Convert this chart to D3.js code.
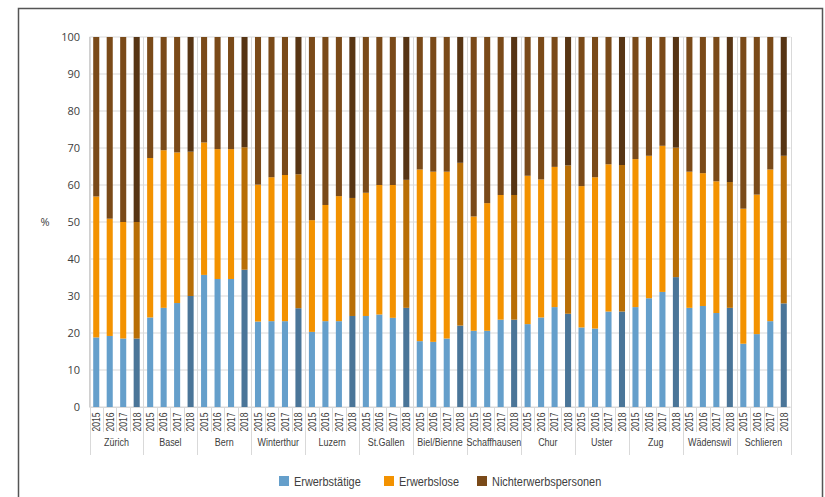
<!DOCTYPE html>
<html><head><meta charset="utf-8">
<script src="https://cdn.jsdelivr.net/npm/d3@7"></script>
<style>html,body{margin:0;padding:0;background:#fff}</style>
</head><body>
<svg id="c" width="825" height="497"></svg>
<script>
const cities = ["Zürich","Basel","Bern","Winterthur","Luzern","St.Gallen","Biel/Bienne","Schaffhausen","Chur","Uster","Zug","Wädenswil","Schlieren"];
const years = ["2015","2016","2017","2018"];
const seriesNames = ["Erwerbstätige","Erwerbslose","Nichterwerbspersonen"];
const yTicks = [0,10,20,30,40,50,60,70,80,90,100];
// values per city, 2015..2018
const erwerbstaetige = [
  18.8,19.2,18.5,18.5, 24.2,26.8,28.1,30.0, 35.7,34.6,34.6,37.1, 23.1,23.2,23.2,26.7,
  20.3,23.2,23.2,24.6, 24.6,25.0,24.1,26.8, 17.8,17.6,18.5,22.0, 20.6,20.6,23.6,23.6,
  22.4,24.2,27.0,25.2, 21.5,21.2,25.8,25.8, 27.0,29.4,31.1,35.1, 26.8,27.3,25.4,26.8,
  17.1,19.7,23.2,28.0];
const erwerbslose = [
  38.1,31.7,31.5,31.5, 43.1,42.6,40.7,39.0, 35.8,35.1,35.1,33.1, 37.0,38.9,39.5,36.2,
  30.2,31.4,33.8,31.9, 33.3,35.0,35.9,34.6, 46.4,46.0,45.1,44.0, 30.9,34.5,33.7,33.7,
  40.1,37.3,37.9,40.1, 38.2,40.9,39.8,39.6, 40.0,38.5,39.5,35.0, 36.8,35.9,35.6,34.0,
  36.5,37.7,41.0,39.9];
const nichterwerbspersonen = [
  43.1,49.1,50.0,50.0, 32.7,30.6,31.2,31.0, 28.5,30.3,30.3,29.8, 39.9,37.9,37.3,37.1,
  49.5,45.4,43.0,43.5, 42.1,40.0,40.0,38.6, 35.8,36.4,36.4,34.0, 48.5,44.9,42.7,42.7,
  37.5,38.5,35.1,34.7, 40.3,37.9,34.4,34.6, 33.0,32.1,29.4,29.9, 36.4,36.8,39.0,39.2,
  46.4,42.6,35.8,32.1];

const colors = ["#659fcb","#f39200","#7a4a19"];
const colorsDark = ["#4a7598","#b86e06","#573514"];
const font = "'Liberation Sans',Arial,sans-serif";
const condense = 0.78;

const rows = [];
cities.forEach((c,ci)=>years.forEach((yr,yi)=>{
  const i = ci*4+yi;
  rows.push({key:c+"|"+yr, city:c, year:yr, "Erwerbstätige":erwerbstaetige[i], "Erwerbslose":erwerbslose[i], "Nichterwerbspersonen":nichterwerbspersonen[i]});
}));

const svg = d3.select("#c");
const pLeft = 89.5, pRight = 790.5, pTop = 37, pBottom = 407;
const x = d3.scaleBand().domain(rows.map(d=>d.key)).range([pLeft,pRight]).paddingInner(0.55).paddingOuter(0.275);
const y = d3.scaleLinear().domain([0,100]).range([pBottom,pTop]);

// frame
svg.append("path").attr("d","M18.5,510 V8.5 H822.5 V510").attr("fill","none").attr("stroke","#555").attr("stroke-width",1.5);

// horizontal grid
svg.append("g").selectAll("line").data(yTicks).join("line")
  .attr("x1",pLeft).attr("x2",pRight).attr("y1",d=>y(d)).attr("y2",d=>y(d))
  .attr("stroke","#d9d9d9").attr("stroke-width",1);

// y labels
svg.append("g").selectAll("text").data(yTicks).join("text")
  .attr("x",80).attr("y",d=>y(d)).attr("dy","0.35em").attr("text-anchor","end")
  .attr("font-family","'Open Sans',sans-serif").attr("font-size",11).attr("fill","#404040").text(d=>d);
svg.append("text").attr("x",45).attr("y",222).attr("dy","0.35em").attr("text-anchor","middle")
  .attr("font-family","'Open Sans',sans-serif").attr("font-size",11).attr("fill","#404040").text("%");

// group separators
const step = x.step();
const bounds = d3.range(cities.length+1).map(i=>pLeft + i*4*step);
svg.append("g").selectAll("line").data(bounds).join("line")
  .attr("x1",d=>Math.round(d)+0.5).attr("x2",d=>Math.round(d)+0.5).attr("y1",pTop).attr("y2",455)
  .attr("stroke","#d9d9d9").attr("stroke-width",1);
// year tick separators
const ticksB = d3.range(rows.length+1).map(i=>pLeft + i*step);
svg.append("g").selectAll("line").data(ticksB).join("line")
  .attr("x1",d=>Math.round(d)+0.5).attr("x2",d=>Math.round(d)+0.5).attr("y1",pBottom).attr("y2",432)
  .attr("stroke","#d9d9d9").attr("stroke-width",1);
// y axis line
svg.append("line").attr("x1",pLeft).attr("x2",pLeft).attr("y1",pTop).attr("y2",pBottom).attr("stroke","#d0d0d0");

// stacked bars
const stack = d3.stack().keys(seriesNames)(rows);
svg.append("g").selectAll("g").data(stack).join("g")
  .each(function(s,si){
    d3.select(this).selectAll("rect").data(s).join("rect")
      .attr("x",d=>x(d.data.key)).attr("width",x.bandwidth())
      .attr("y",d=>y(d[1])).attr("height",d=>y(d[0])-y(d[1]))
      .attr("fill",d=>d.data.year==="2018"?colorsDark[si]:colors[si]);
  });

// bottom axis line
svg.append("line").attr("x1",pLeft).attr("x2",pRight).attr("y1",pBottom+0.5).attr("y2",pBottom+0.5).attr("stroke","#d9d9d9");

// year labels
svg.append("g").selectAll("text").data(rows).join("text")
  .attr("transform",d=>`translate(${x(d.key)+x.bandwidth()/2},422) rotate(-90) scale(${condense},1)`)
  .attr("dy","0.35em").attr("text-anchor","middle")
  .attr("font-family",font).attr("font-size",11).attr("fill","#404040").text(d=>d.year);

// city labels
svg.append("g").selectAll("text").data(cities).join("text")
  .attr("transform",(d,i)=>`translate(${(bounds[i]+bounds[i+1])/2},442) scale(${condense},1)`)
  .attr("dy","0.35em").attr("text-anchor","middle")
  .attr("font-family",font).attr("font-size",11.5).attr("fill","#404040").text(d=>d);

// legend
const lx = [279,384,477];
const lg = svg.append("g").selectAll("g").data(seriesNames).join("g")
  .attr("transform",(d,i)=>`translate(${lx[i]},476)`);
lg.append("rect").attr("width",10).attr("height",10).attr("fill",(d,i)=>colors[i]);
lg.append("text").attr("transform","translate(15,5) scale(0.84,1)").attr("dy","0.35em")
  .attr("font-family",font).attr("font-size",13).attr("fill","#404040").text(d=>d);
</script>
</body></html>
